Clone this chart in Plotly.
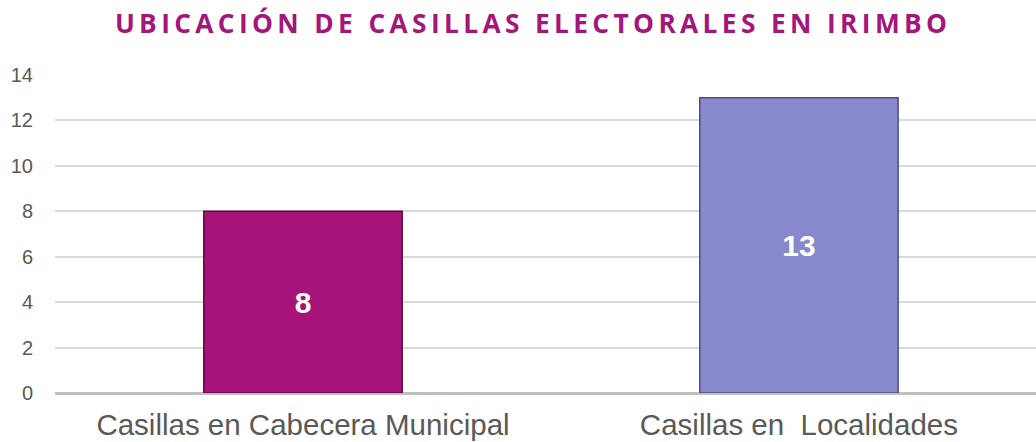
import plotly.graph_objects as go

categories = ["Casillas en Cabecera Municipal", "Casillas en\u00a0 Localidades"]
values = [8, 13]
bar_colors = ["#A8137A", "#8888CC"]
edge_colors = ["#5A0A42", "#4E4E80"]
title_text = "UBICACIÓN DE CASILLAS ELECTORALES EN IRIMBO"
y_ticks = [0, 2, 4, 6, 8, 10, 12, 14]

spaced_title = "\u2009".join(title_text)

fig = go.Figure()
fig.add_trace(go.Bar(
    x=categories,
    y=values,
    width=0.4,
    marker=dict(color=bar_colors, line=dict(color=edge_colors, width=1.5)),
    text=[str(v) for v in values],
    textposition="inside",
    insidetextanchor="middle",
    textfont=dict(family="Liberation Sans, Arial", size=30, color="white", weight="bold"),
    hoverinfo="skip",
))

fig.update_layout(
    width=1036, height=442,
    margin=dict(l=55, r=0, t=75, b=49),
    paper_bgcolor="white", plot_bgcolor="white",
    showlegend=False,
    title=dict(
        text=spaced_title,
        x=0.5125, xanchor="center", xref="container",
        y=0.947, yanchor="middle", yref="container",
        font=dict(family="Open Sans", size=26.3, color="#A3167A", weight="bold"),
    ),
    xaxis=dict(
        range=[-0.5, 1.478],
        showgrid=False,
        showline=False,
        tickfont=dict(family="Liberation Sans, Arial", size=29.5, color="#595959"),
        ticks="",
        ticklabelstandoff=11,
    ),
    yaxis=dict(
        range=[0, 14],
        tickvals=y_ticks,
        showgrid=True, gridcolor="#D9D9D9", gridwidth=1.5,
        zeroline=True, zerolinecolor="#BFBFBF", zerolinewidth=3,
        showline=False,
        ticks="",
        tickfont=dict(family="Liberation Sans, Arial", size=20, color="#595959"),
        ticklabelstandoff=21,
    ),
)

fig.write_html("out.html")
